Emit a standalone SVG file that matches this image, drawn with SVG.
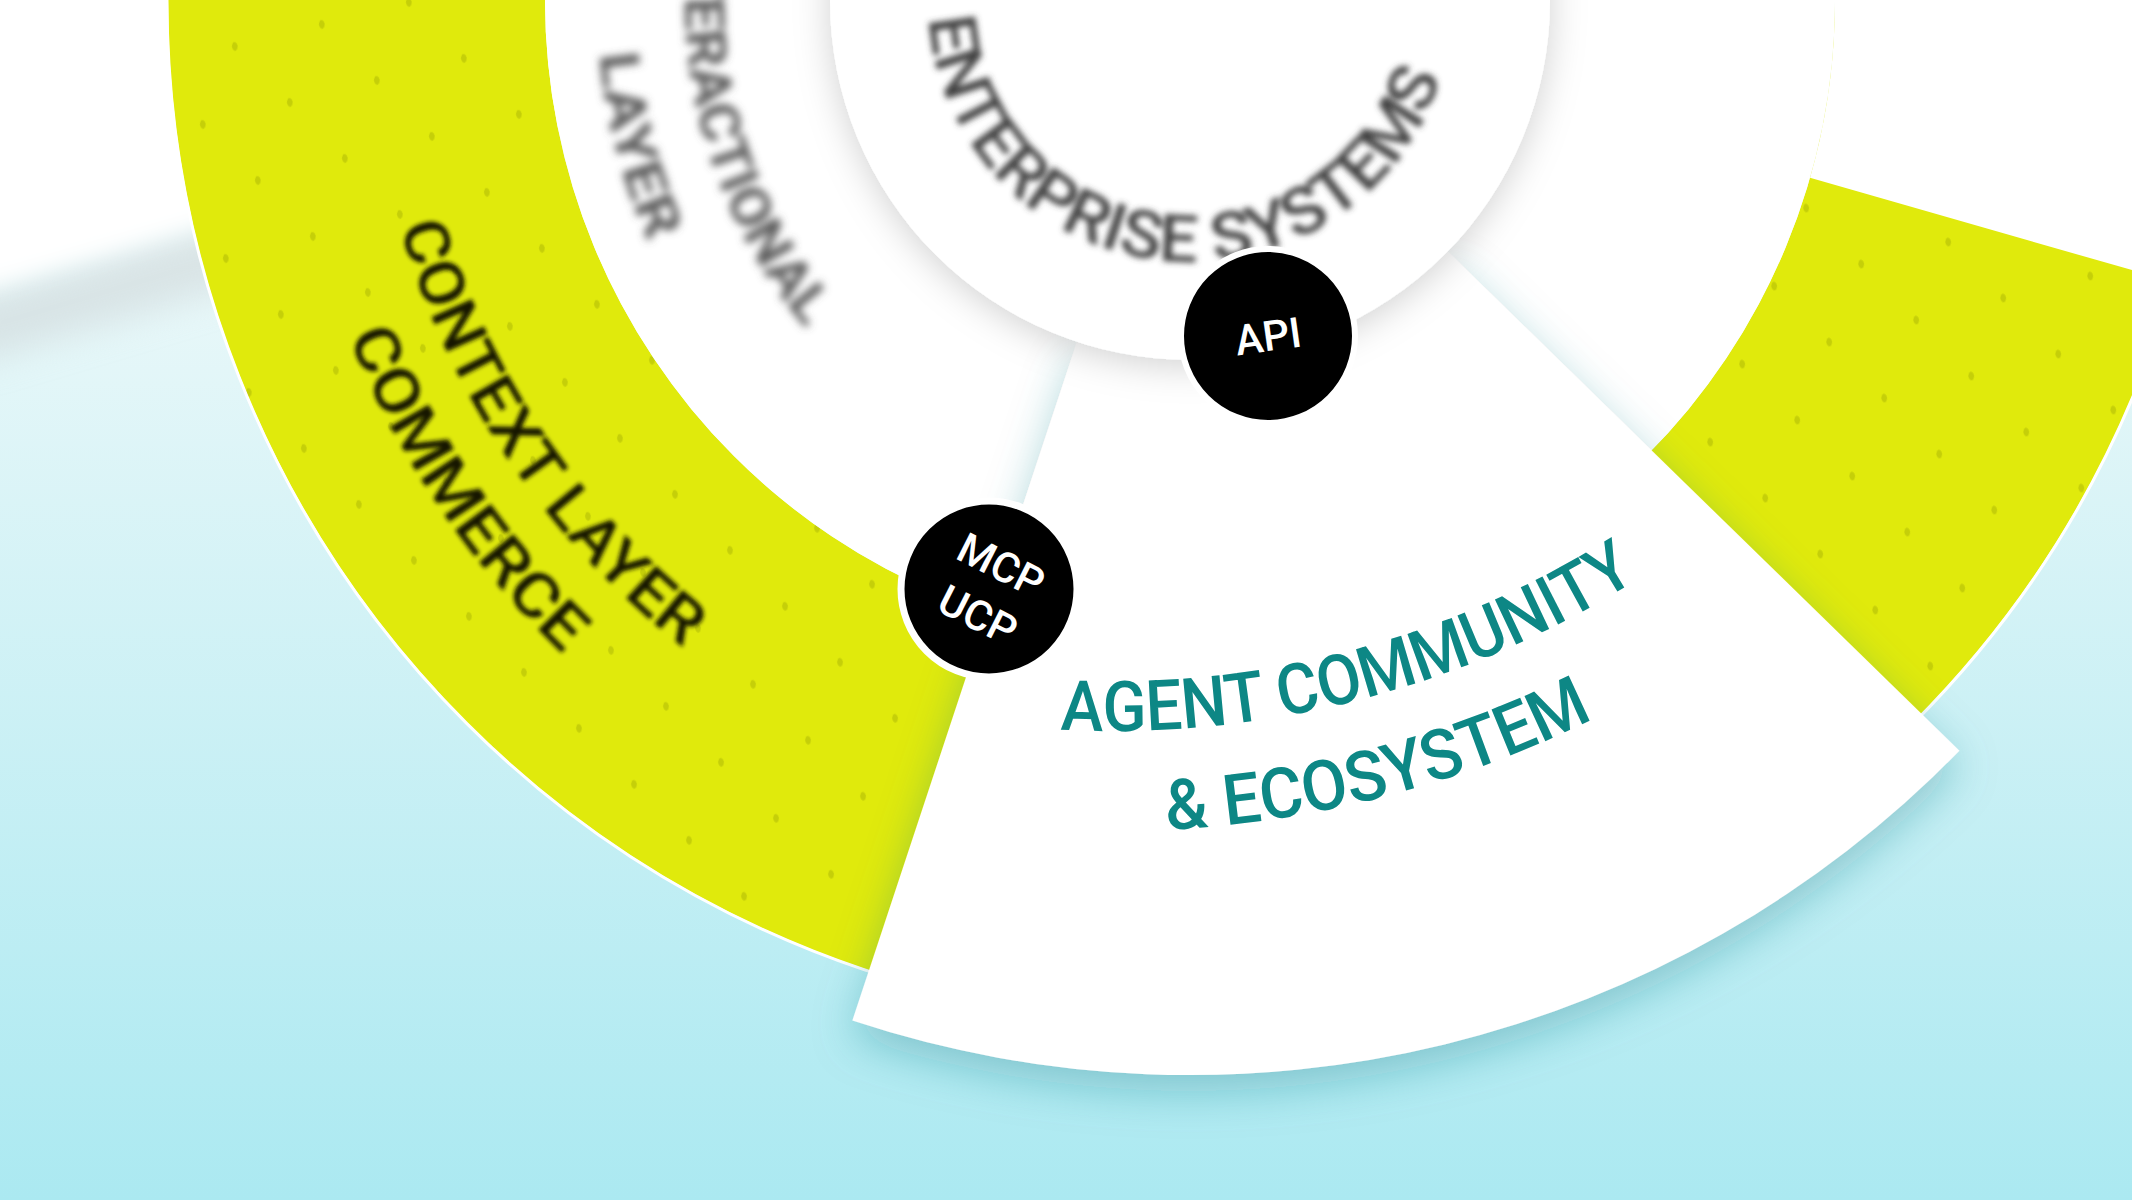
<svg xmlns="http://www.w3.org/2000/svg" width="2132" height="1200" viewBox="0 0 2132 1200">
<defs>
  <style>
    .lbl { font-family: Roboto, "Liberation Sans", sans-serif; font-weight: 500; }
    .ent { font-size: 66px; fill: #424242; }
    .int { font-size: 55px; fill: #575757; font-weight: 700; }
    .com { font-size: 62px; fill: #161803; }
    .agt { font-size: 70px; fill: #0d8785; }
    .tok { font-size: 42px; fill: #ffffff; }
    .yel { fill: #e0ea0c; }
  </style>
  <linearGradient id="bg" x1="0" y1="250" x2="0" y2="1200" gradientUnits="userSpaceOnUse">
    <stop offset="0" stop-color="#ebf8f9"/>
    <stop offset="1" stop-color="#abe9f1"/>
  </linearGradient>
  <pattern id="dots" patternUnits="userSpaceOnUse" width="78.5" height="77.5" patternTransform="rotate(45.5) skewX(23.2)">
    <circle cx="20" cy="20" r="3.4" fill="#6f7800" fill-opacity="0.24"/>
  </pattern>
  <filter id="b3" x="-10%" y="-10%" width="120%" height="120%"><feGaussianBlur stdDeviation="3"/></filter>
  <filter id="b5" x="-10%" y="-10%" width="120%" height="120%"><feGaussianBlur stdDeviation="4.5"/></filter>
  <filter id="b2" x="-10%" y="-10%" width="120%" height="120%"><feGaussianBlur stdDeviation="2.2"/></filter>
  <filter id="b18" x="-20%" y="-100%" width="140%" height="300%"><feGaussianBlur stdDeviation="18"/></filter>
  <filter id="b10" x="-20%" y="-50%" width="140%" height="200%"><feGaussianBlur stdDeviation="10"/></filter>
  <filter id="secShadow" x="-20%" y="-20%" width="140%" height="140%">
    <feDropShadow dx="0" dy="16" stdDeviation="22" flood-color="#1f7f8c" flood-opacity="0.35"/>
  </filter>
  <filter id="discShadow" x="-20%" y="-20%" width="140%" height="140%">
    <feDropShadow dx="0" dy="6" stdDeviation="18" flood-color="#000000" flood-opacity="0.18"/>
  </filter>
  <path id="pEnt" d="M 929.7,-29.7 A 262 262 0 0 0 1160.3,260.3 A 262 262 0 0 0 1450.3,29.7"/>
  <path id="pInt1" d="M 1061.8,-488.5 A 505 505 0 0 0 701.5,128.2 A 505 505 0 0 0 1318.2,488.5"/>
  <path id="pInt2" d="M 1039.5,-573.6 A 593 593 0 0 0 616.4,150.5 A 593 593 0 0 0 1340.5,573.6"/>
  <path id="pCom1" d="M 730.3,-681.4 A 822 822 0 0 0 508.6,459.7 A 822 822 0 0 0 1649.7,681.4"/>
  <path id="pCom2" d="M 683.4,-751.1 A 906 906 0 0 0 438.9,506.6 A 906 906 0 0 0 1696.6,751.1"/>
  <path id="pAg1" d="M 617.0,596.1 A 981 981 0 0 0 1360.7,699.3 A 981 981 0 0 0 1959.5,246.4"/>
  <path id="pAg2" d="M 566.4,682.4 A 1081 1081 0 0 0 1385.9,796.1 A 1081 1081 0 0 0 2045.8,297.0"/>
</defs>

<g id="background">
  <rect x="0" y="0" width="2132" height="1200" fill="url(#bg)"/>
  <path d="M -40,335 L 800,85" stroke="#cdd6d8" stroke-width="60" fill="none" filter="url(#b18)" opacity="0.6"/>
  <path d="M -40,-20 L 800,-20 L 800,50 L -40,295 Z" fill="#ffffff" filter="url(#b10)"/>
</g>

<g id="commerce-context-layer">
  <path class="yel" fill-rule="evenodd" d="M 168,0 A 1022 1022 0 1 0 2212,0 A 1022 1022 0 1 0 168,0 Z M 545,0 A 645 645 0 1 0 1835,0 A 645 645 0 1 0 545,0 Z"/>
  <path fill="url(#dots)" fill-rule="evenodd" d="M 168,0 A 1022 1022 0 1 0 2212,0 A 1022 1022 0 1 0 168,0 Z M 545,0 A 645 645 0 1 0 1835,0 A 645 645 0 1 0 545,0 Z"/>
  <circle cx="1190" cy="0" r="1023" fill="none" stroke="#ffffff" stroke-width="3"/>
</g>

<g id="interactional-layer">
  <circle cx="1190" cy="0" r="645" fill="#ffffff"/>
  <path d="M 1810,177.8 L 2247.4,303.2 A 1100 1100 0 0 0 2032.6,-707.1 L 1684.1,-414.6 A 645 645 0 0 1 1810,177.8 Z" fill="#ffffff"/>
</g>

<g id="agent-community">
  <path d="M 1447.7,251.4 L 1959.4,750.8 A 1075 1075 0 0 1 852.4,1020.6 L 1077,341.8 A 360 360 0 0 0 1447.7,251.4 Z" fill="#ffffff" filter="url(#secShadow)"/>
</g>

<g id="enterprise-systems">
  <circle cx="1190" cy="0" r="360" fill="#ffffff" filter="url(#discShadow)"/>
</g>

<g id="labels" class="lbl">
  <text class="ent" filter="url(#b3)" text-anchor="middle"><textPath href="#pEnt" startOffset="50%" textLength="727" lengthAdjust="spacingAndGlyphs">ENTERPRISE SYSTEMS</textPath></text>
  <text class="int" filter="url(#b5)" text-anchor="middle"><textPath href="#pInt1" startOffset="50%" textLength="455" lengthAdjust="spacingAndGlyphs">INTERACTIONAL</textPath></text>
  <text class="int" filter="url(#b5)" text-anchor="middle"><textPath href="#pInt2" startOffset="50%" textLength="195" lengthAdjust="spacingAndGlyphs">LAYER</textPath></text>
  <text class="com" filter="url(#b2)" text-anchor="middle"><textPath href="#pCom1" startOffset="50%" textLength="516" lengthAdjust="spacingAndGlyphs">CONTEXT LAYER</textPath></text>
  <text class="com" filter="url(#b2)" text-anchor="middle"><textPath href="#pCom2" startOffset="50%" textLength="386" lengthAdjust="spacingAndGlyphs">COMMERCE</textPath></text>
  <text class="agt" text-anchor="middle"><textPath href="#pAg1" startOffset="50%" textLength="606" lengthAdjust="spacingAndGlyphs">AGENT COMMUNITY</textPath></text>
  <text class="agt" text-anchor="middle"><textPath href="#pAg2" startOffset="50%" textLength="445" lengthAdjust="spacingAndGlyphs">&amp; ECOSYSTEM</textPath></text>
</g>

<g id="node-api">
  <circle cx="1268" cy="336" r="87" fill="#000000" stroke="#ffffff" stroke-width="6"/>
  <text class="lbl tok" x="1268" y="351" text-anchor="middle" transform="rotate(-8 1268 336)">API</text>
</g>

<g id="node-mcp-ucp">
  <circle cx="989" cy="589" r="88" fill="#000000" stroke="#ffffff" stroke-width="7"/>
  <text class="lbl tok" text-anchor="middle" transform="translate(989 589) rotate(27)"><tspan x="0" y="-12">MCP</tspan><tspan x="2" y="43">UCP</tspan></text>
</g>
</svg>
